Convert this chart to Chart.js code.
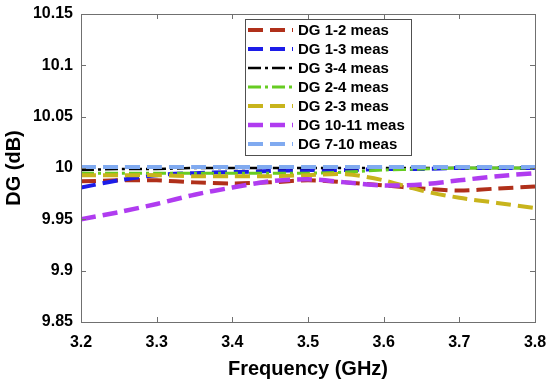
<!DOCTYPE html>
<html>
<head>
<meta charset="utf-8">
<script src="https://cdn.jsdelivr.net/npm/chart.js@4.4.1/dist/chart.umd.min.js"></script>
<style>
  html, body { margin: 0; padding: 0; background: #fff; }
  canvas { display: block; }
</style>
</head>
<body>
<canvas id="dgChart" width="550" height="383"></canvas>
<script>
// frequencies (GHz)
const freqs = [3.2, 3.25, 3.3, 3.35, 3.4, 3.45, 3.5, 3.55, 3.6, 3.65, 3.7, 3.75, 3.8];

const dg12 = [9.987, 9.988, 9.988, 9.986, 9.985, 9.986, 9.988, 9.986, 9.983, 9.980, 9.978, 9.980, 9.982];
const dg13 = [9.981, 9.988, 9.993, 9.995, 9.996, 9.997, 9.998, 9.998, 9.999, 9.999, 10.0, 10.0, 10.0];
const dg34 = [9.998, 9.999, 9.999, 10.0, 10.0, 10.0, 10.0, 10.0, 10.0, 10.0, 10.0, 10.0, 10.0];
const dg24 = [9.995, 9.995, 9.995, 9.995, 9.995, 9.995, 9.995, 9.996, 9.998, 9.999, 10.0, 10.0, 10.0];
const dg23 = [9.993, 9.993, 9.993, 9.992, 9.992, 9.992, 9.993, 9.994, 9.988, 9.978, 9.971, 9.966, 9.961];
const dg1011 = [9.950, 9.957, 9.965, 9.974, 9.981, 9.987, 9.989, 9.986, 9.983, 9.984, 9.988, 9.992, 9.995];
const dg710 = [10.001, 10.001, 10.001, 10.001, 10.001, 10.001, 10.001, 10.001, 10.001, 10.001, 10.001, 10.001, 10.001];

const seriesLabels = ["DG 1-2 meas", "DG 1-3 meas", "DG 3-4 meas", "DG 2-4 meas", "DG 2-3 meas", "DG 10-11 meas", "DG 7-10 meas"];
const seriesValues = [dg12, dg13, dg34, dg24, dg23, dg1011, dg710];
const colors = ["#b0301a", "#1c1ce8", "#000000", "#66cc22", "#c8b41c", "#b03cf0", "#80aaf0"];
const dashes = [[15, 7], [15, 7], [13, 4, 3, 4], [13, 4, 3, 4], [15, 7], [15, 7], [15, 7]];
const widths = [4, 4, 2.5, 3, 4, 4.5, 4];

const yTicks = [9.85, 9.9, 9.95, 10, 10.05, 10.1, 10.15];
const xTicks = [3.2, 3.3, 3.4, 3.5, 3.6, 3.7, 3.8];

const FONT = "'Liberation Sans', Arial, sans-serif";

const datasets = seriesLabels.map((label, i) => ({
    label: label,
    data: freqs.map((f, j) => ({ x: f, y: seriesValues[i][j] })),
    borderColor: colors[i],
    backgroundColor: colors[i],
    borderWidth: widths[i],
    borderDash: dashes[i],
    pointRadius: 0,
    fill: false,
    tension: 0.3,
    order: seriesLabels.length - i
}));

// box, inward ticks and legend inside the plot (MATLAB look)
const boxPlugin = {
    id: "box",
    afterDraw(chart) {
        const ctx = chart.ctx;
        const a = chart.chartArea;
        const xs = chart.scales.x, ys = chart.scales.y;
        ctx.save();
        ctx.strokeStyle = "#707070";
        ctx.lineWidth = 1;
        ctx.setLineDash([]);
        ctx.strokeRect(a.left + 0.5, a.top + 0.5, a.right - a.left, a.bottom - a.top);
        ctx.beginPath();
        xTicks.forEach(v => {
            const px = Math.round(xs.getPixelForValue(v)) + 0.5;
            ctx.moveTo(px, a.bottom); ctx.lineTo(px, a.bottom - 5);
            ctx.moveTo(px, a.top); ctx.lineTo(px, a.top + 5);
        });
        yTicks.forEach(v => {
            const py = Math.round(ys.getPixelForValue(v)) + 0.5;
            ctx.moveTo(a.left, py); ctx.lineTo(a.left + 5, py);
            ctx.moveTo(a.right, py); ctx.lineTo(a.right - 5, py);
        });
        ctx.stroke();

        // legend
        const lx = a.left + 164, ly = a.top + 5, lw = 166, lh = 136;
        ctx.fillStyle = "#fff";
        ctx.fillRect(lx, ly, lw, lh);
        ctx.strokeStyle = "#505050";
        ctx.strokeRect(lx + 0.5, ly + 0.5, lw, lh);
        ctx.font = "bold 15px " + FONT;
        ctx.textBaseline = "middle";
        ctx.fillStyle = "#000";
        seriesLabels.forEach((lab, i) => {
            const y = ly + 11 + i * 19;
            ctx.strokeStyle = colors[i];
            ctx.lineWidth = widths[i];
            ctx.setLineDash(dashes[i]);
            ctx.beginPath();
            ctx.moveTo(lx + 3, y); ctx.lineTo(lx + 48, y);
            ctx.stroke();
            ctx.fillText(lab, lx + 53, y + 1);
        });
        ctx.restore();
    }
};

const ctx = document.getElementById("dgChart").getContext("2d");
new Chart(ctx, {
    type: "line",
    data: { datasets: datasets },
    options: {
        responsive: false,
        animation: false,
        devicePixelRatio: 1,
        layout: { padding: { top: 14, right: 15, left: 0, bottom: 0 } },
        plugins: { legend: { display: false }, tooltip: { enabled: false } },
        scales: {
            x: {
                type: "linear",
                min: 3.2,
                max: 3.8,
                afterFit: s => { s.height = 61; s.paddingLeft = 0; s.paddingRight = 0; },
                afterBuildTicks: s => { s.ticks = xTicks.map(v => ({ value: v })); },
                grid: { display: false, drawTicks: false },
                border: { display: false },
                ticks: {
                    padding: 11,
                    color: "#000",
                    font: { family: FONT, size: 16, weight: "bold" },
                    callback: v => v.toFixed(1)
                },
                title: {
                    display: true,
                    text: "Frequency (GHz)",
                    color: "#000",
                    padding: { top: 0, bottom: 2 },
                    font: { family: FONT, size: 20, weight: "bold" }
                }
            },
            y: {
                min: 9.85,
                max: 10.15,
                afterFit: s => { s.width = 81; s.paddingTop = 0; s.paddingBottom = 0; },
                afterBuildTicks: s => { s.ticks = yTicks.map(v => ({ value: v })); },
                grid: { display: false, drawTicks: false },
                border: { display: false },
                ticks: {
                    padding: 8,
                    color: "#000",
                    font: { family: FONT, size: 16, weight: "bold" },
                    callback: v => String(+v.toFixed(2))
                },
                title: {
                    display: true,
                    text: "DG (dB)",
                    color: "#000",
                    padding: { top: 2, bottom: 0 },
                    font: { family: FONT, size: 20, weight: "bold" }
                }
            }
        }
    },
    plugins: [boxPlugin]
});
</script>
</body>
</html>
